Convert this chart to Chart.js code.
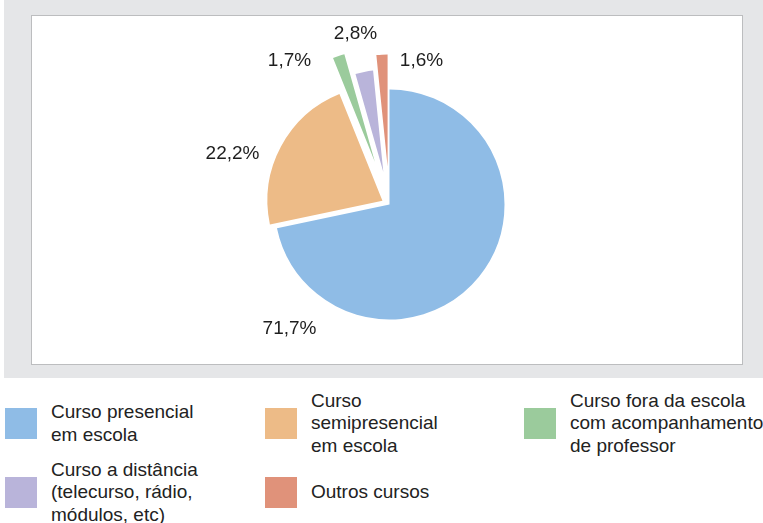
<!DOCTYPE html>
<html>
<head>
<meta charset="utf-8">
<script src="https://cdn.jsdelivr.net/npm/chart.js@4"></script>
<style>
  html, body { margin: 0; padding: 0; background: #fff; width: 763px; height: 523px; overflow: hidden; }
  body { position: relative; font-family: "Liberation Sans", Arial, sans-serif; color: #222; }
  .gray { position: absolute; left: 4px; top: 0; width: 759px; height: 378px; background: #e5e6e8; }
  .panel { position: absolute; left: 31px; top: 15px; width: 712px; height: 350px; box-sizing: border-box; background: #fff; border: 1px solid #bcbdbf; }
  .wrap { position: absolute; left: 0; top: 0; width: 763px; height: 378px; }
  .legend { position: absolute; left: 0; top: 389px; width: 763px; }
  .item { position: absolute; height: 69px; display: flex; align-items: center; }
  .sw { width: 32px; height: 31px; flex: none; margin-right: 14px; }
  .txt { font-size: 19px; line-height: 22.3px; white-space: pre; }
</style>
</head>
<body>
<div class="gray"></div>
<div class="panel"></div>
<div class="wrap"><canvas id="myChart"></canvas></div>
<div class="legend" id="legend"></div>
<script>
const labels = ["Curso presencial\nem escola", "Curso\nsemipresencial\nem escola", "Curso fora da escola\ncom acompanhamento\nde professor", "Curso a distância\n(telecurso, rádio,\nmódulos, etc)", "Outros cursos"]
const values = [71.7, 22.2, 1.7, 2.8, 1.6]
const valueText = ["71,7%", "22,2%", "1,7%", "2,8%", "1,6%"]
const colors = ["#8fbce6", "#edbb87", "#9bcb9c", "#b9b4da", "#e0927a"]

// how far each slice is pulled out (px) and its own radius
const explode = [0, 8, 45, 33, 38]
const sliceRadius = [115, 115, 112, 102, 112]
// where each percentage label sits, relative to the pie centre
const labelShift = [[-100, 124], [-157, -51], [-100, -144], [-34, -171], [32, -144]]

// legend layout: column x and row index
const legendCol = [5, 265, 524, 5, 265]
const legendRow = [0, 0, 0, 1, 1]

const legend = document.getElementById("legend")
labels.forEach((l, i) => {
    const item = document.createElement("div")
    item.className = "item"
    item.style.left = legendCol[i] + "px"
    item.style.top = (legendRow[i] * 69) + "px"
    item.innerHTML = `<div class="sw" style="background:${colors[i]}"></div><div class="txt"></div>`
    item.querySelector(".txt").textContent = l
    legend.appendChild(item)
})

// pull slices out along their mid angle
const explodePlugin = {
    id: "explode",
    afterDatasetUpdate(chart) {
        chart.getDatasetMeta(0).data.forEach((arc, i) => {
            const mid = (arc.startAngle + arc.endAngle) / 2
            arc.x += Math.cos(mid) * explode[i]
            arc.y += Math.sin(mid) * explode[i]
            arc.outerRadius = sliceRadius[i]
        })
    }
}

const pctLabels = {
    id: "pctLabels",
    afterDatasetsDraw(chart) {
        const ctx = chart.ctx
        const area = chart.chartArea
        const cx = (area.left + area.right) / 2
        const cy = (area.top + area.bottom) / 2
        ctx.save()
        ctx.font = "19px 'Liberation Sans', Arial, sans-serif"
        ctx.fillStyle = "#1e1e1e"
        ctx.textAlign = "center"
        ctx.textBaseline = "middle"
        valueText.forEach((t, i) => {
            ctx.fillText(t, cx + labelShift[i][0], cy + labelShift[i][1])
        })
        ctx.restore()
    }
}

const ctx = document.getElementById("myChart").getContext("2d")
new Chart(ctx, {
    type: "pie",
    data: {
        labels: labels,
        datasets: [{
            data: values,
            backgroundColor: colors,
            borderWidth: 0
        }]
    },
    options: {
        responsive: true,
        maintainAspectRatio: false,
        animation: false,
        radius: 115,
        layout: { padding: { left: 16, top: 31, right: 0, bottom: 0 } },
        plugins: {
            legend: { display: false },
            tooltip: { enabled: false }
        }
    },
    plugins: [explodePlugin, pctLabels]
})
</script>
</body>
</html>
